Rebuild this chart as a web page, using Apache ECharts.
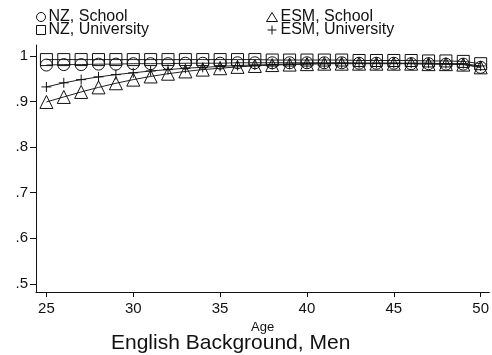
<!DOCTYPE html>
<html>
<head>
<meta charset="utf-8">
<script src="https://cdn.jsdelivr.net/npm/echarts@6/dist/echarts.min.js"></script>
<style>
  html, body { margin: 0; padding: 0; background: #fff; }
  #chart { width: 492px; height: 355px; }
</style>
</head>
<body>
<div id="chart"></div>
<script>
// Age in years
const ages = [25, 26, 27, 28, 29, 30, 31, 32, 33, 34, 35, 36, 37, 38, 39, 40,
              41, 42, 43, 44, 45, 46, 47, 48, 49, 50];

// Predicted probabilities by origin and education
const nzSchool = [.980, .981, .981, .982, .982, .983, .983, .983, .984, .984, .984, .985, .985,
                  .985, .985, .985, .985, .985, .984, .984, .984, .983, .983, .982, .982, .975];
const nzUniversity = [.992, .992, .992, .992, .992, .992, .992, .992, .992, .992, .992, .992, .992,
                      .991, .991, .991, .991, .991, .990, .990, .990, .990, .989, .989, .988, .983];
const esmSchool = [.899, .910, .921, .931, .940, .948, .955, .961, .966, .970, .973, .976, .978,
                   .980, .981, .982, .983, .983, .983, .983, .983, .983, .982, .982, .981, .975];
const esmUniversity = [.932, .941, .948, .954, .959, .963, .967, .970, .973, .975, .977, .979, .980,
                       .981, .982, .983, .983, .984, .984, .984, .984, .984, .984, .983, .983, .978];

const yTicks = [0.5, 0.6, 0.7, 0.8, 0.9, 1];
const xTicks = [25, 30, 35, 40, 45, 50];

const FONT = 'Liberation Sans, Arial, Helvetica, sans-serif';
const INK = '#111';
const PLUS = 'path://M5,0L5,10M0,5L10,5';

function pairs(vals) { return ages.map((a, i) => [a, vals[i]]); }

function mkSeries(name, vals, symbol, size) {
  return {
    name: name,
    type: 'line',
    data: pairs(vals),
    symbol: symbol,
    symbolSize: size,
    showAllSymbol: true,
    smooth: false,
    lineStyle: { color: '#222', width: 1 },
    itemStyle: { color: 'transparent', borderColor: INK, borderWidth: 1 },
    emphasis: { disabled: true },
    z: 3
  };
}

const legendText = { fontFamily: FONT, fontSize: 16, color: INK, padding: [0, 0, 0, -2] };

const chart = echarts.init(document.getElementById('chart'), null, { renderer: 'canvas' });

chart.setOption({
  animation: false,
  backgroundColor: '#fff',
  textStyle: { fontFamily: FONT, color: INK },
  title: {
    text: 'English Background, Men',
    left: 106, top: 328,
    textStyle: { fontFamily: FONT, fontSize: 21, fontWeight: 'normal', color: INK }
  },
  legend: [
    {
      data: [
        { name: 'NZ, School', icon: 'circle' },
        { name: 'NZ, University', icon: 'rect' }
      ],
      orient: 'vertical', left: 31, top: 4,
      itemWidth: 9, itemHeight: 9, itemGap: -3,
      textStyle: legendText,
      itemStyle: { color: 'transparent', borderColor: INK, borderWidth: 1 },
      selectedMode: false
    },
    {
      data: [
        { name: 'ESM, School', icon: 'triangle' },
        { name: 'ESM, University', icon: PLUS }
      ],
      orient: 'vertical', left: 261, top: 4,
      itemWidth: 11, itemHeight: 9, itemGap: -3,
      textStyle: legendText,
      itemStyle: { color: 'transparent', borderColor: INK, borderWidth: 1 },
      selectedMode: false
    }
  ],
  grid: { left: 36, right: 2, top: 45, bottom: 63, containLabel: false },
  xAxis: {
    type: 'value',
    min: 24.4, max: 50.5,
    name: 'Age',
    nameLocation: 'middle',
    nameGap: 28,
    nameTextStyle: { fontFamily: FONT, fontSize: 13, color: INK },
    axisLine: { show: true, lineStyle: { color: INK, width: 1 } },
    axisTick: { show: true, length: 5, customValues: xTicks, lineStyle: { color: INK } },
    axisLabel: { customValues: xTicks, fontFamily: FONT, fontSize: 15, color: INK, margin: 9 },
    splitLine: { show: false }
  },
  yAxis: {
    type: 'value',
    min: 0.482, max: 1.024,
    axisLine: { show: true, lineStyle: { color: INK, width: 1 } },
    axisTick: { show: true, length: 6, customValues: yTicks, lineStyle: { color: INK } },
    axisLabel: {
      customValues: yTicks,
      fontFamily: FONT, fontSize: 15, color: INK, margin: 8,
      formatter: v => (Math.abs(v - 1) < 1e-9 ? '1' : String(+v.toFixed(1)).replace(/^0/, ''))
    },
    splitLine: { show: false }
  },
  series: [
    mkSeries('NZ, School', nzSchool, 'circle', 12),
    mkSeries('NZ, University', nzUniversity, 'rect', 12),
    mkSeries('ESM, School', esmSchool, 'triangle', 13),
    mkSeries('ESM, University', esmUniversity, PLUS, 10)
  ]
});
</script>
</body>
</html>
